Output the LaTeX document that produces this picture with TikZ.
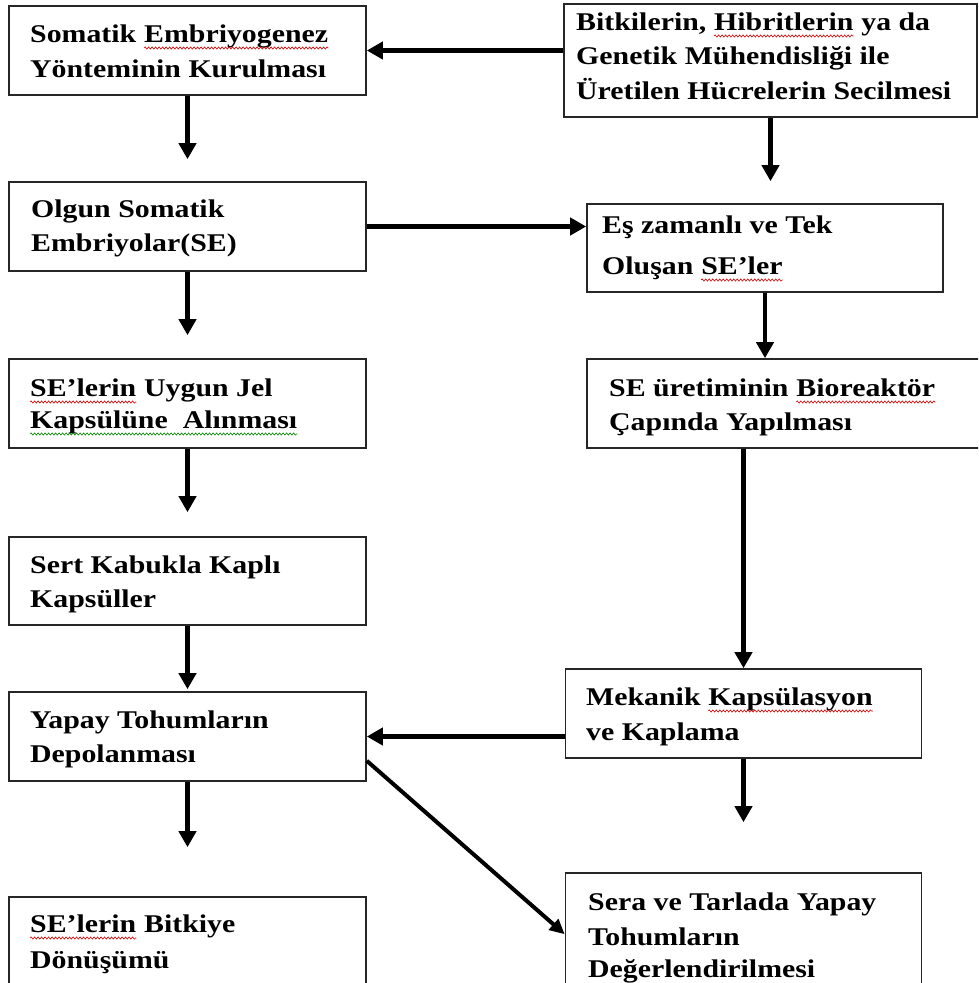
\documentclass[tikz,border=0pt]{standalone}
\usepackage{fontspec}
\setmainfont{Liberation Serif}[FakeStretch=1.17]
\usetikzlibrary{arrows.meta,decorations.pathmorphing}
\begin{document}
\begin{tikzpicture}[x=1pt,y=-1pt,
  box/.style={draw=black!85, line width=1.6pt, rectangle, inner sep=0pt},
  txt/.style={anchor=base west, inner sep=0pt, text=black, font=\fontsize{25.5}{34}\selectfont\bfseries},
  arr/.style={line width=4.5pt, -{Triangle[length=16pt,width=17pt]}},
  arrthin/.style={line width=4pt, -{Triangle[length=15pt,width=14pt]}},
  squig/.style={line width=0.6pt, decorate, decoration={snake, amplitude=1.1pt, segment length=3.5pt}},
  redsq/.style={squig, draw=red!85!black},
  grnsq/.style={squig, draw=green!55!black}]
\useasboundingbox[fill=white] (0,0) rectangle (978,983);
\clip (0,0) rectangle (978,983);
% boxes
\node[box, minimum width=357pt, minimum height=89pt] (A) at (187.5,50.5) {};
\node[box, minimum width=413pt, minimum height=113pt] (B) at (770.5,60.5) {};
\node[box, minimum width=357pt, minimum height=89pt] (C) at (187.5,226.5) {};
\node[box, minimum width=356pt, minimum height=88pt] (D) at (765,248) {};
\node[box, minimum width=357pt, minimum height=89pt] (E) at (187.5,403.5) {};
\node[box, minimum width=410pt, minimum height=89pt] (F) at (792,403.5) {};
\node[box, minimum width=357pt, minimum height=88pt] (G) at (187.5,581) {};
\node[box, minimum width=357pt, minimum height=89pt] (H) at (187.5,736.5) {};
\node[box, minimum width=356pt, minimum height=89pt] (M) at (743.5,713.5) {};
\node[box, minimum width=357pt, minimum height=110pt] (I) at (187.5,952) {};
\node[box, minimum width=356pt, minimum height=130pt] (J) at (743.5,938) {};
% texts
\node[txt] (tA1) at (30,42) {Somatik};
\node[txt] (wA) at ([xshift=7.5pt]tA1.base east) {Embriyogenez};
\node[txt] (tA2) at (30,77) {Yönteminin Kurulması};
\node[txt] (tB1) at (576,30) {Bitkilerin,};
\node[txt] (wB) at ([xshift=7.5pt]tB1.base east) {Hibritlerin};
\node[txt] (tB1b) at ([xshift=7.5pt]wB.base east) {ya da};
\node[txt] (tB2) at (576,64.5) {Genetik Mühendisliği ile};
\node[txt] (tB3) at (576,99) {Üretilen Hücrelerin Secilmesi};
\node[txt] (tC1) at (31,217) {Olgun Somatik};
\node[txt] (tC2) at (31,251) {Embriyolar(SE)};
\node[txt] (tD1) at (602,233) {Eş zamanlı ve Tek};
\node[txt] (tD2) at (602,274) {Oluşan};
\node[txt] (wD) at ([xshift=7.5pt]tD2.base east) {SE’ler};
\node[txt] (wE) at (30,396) {SE’lerin};
\node[txt] (tE1) at ([xshift=7.5pt]wE.base east) {Uygun Jel};
\node[txt] (tE2) at (30,428) {Kapsülüne\hspace{15pt}Alınması};
\node[txt] (tF1) at (609,396) {SE üretiminin};
\node[txt] (wF) at ([xshift=7.5pt]tF1.base east) {Bioreaktör};
\node[txt] (tF2) at (609,430) {Çapında Yapılması};
\node[txt] (tG1) at (30,573) {Sert Kabukla Kaplı};
\node[txt] (tG2) at (30,607) {Kapsüller};
\node[txt] (tH1) at (30,728) {Yapay Tohumların};
\node[txt] (tH2) at (30,762) {Depolanması};
\node[txt] (tM1) at (586,705) {Mekanik};
\node[txt] (wM) at ([xshift=7.5pt]tM1.base east) {Kapsülasyon};
\node[txt] (tM2) at (586,740) {ve Kaplama};
\node[txt] (wI) at (30,932) {SE’lerin};
\node[txt] (tI1) at ([xshift=7.5pt]wI.base east) {Bitkiye};
\node[txt] (tI2) at (30,968) {Dönüşümü};
\node[txt] (tJ1) at (588,910) {Sera ve Tarlada Yapay};
\node[txt] (tJ2) at (588,945) {Tohumların};
\node[txt] (tJ3) at (588,977) {Değerlendirilmesi};
% spell-check underlines
\foreach \w in {wA,wB,wD,wE,wF,wM,wI}
  \draw[redsq] ([yshift=-6pt]\w.base west) -- ([yshift=-6pt]\w.base east);
\draw[grnsq] ([yshift=-6pt]tE2.base west) -- ([yshift=-6pt]tE2.base east);
% connectors
\draw[arr] (A.east -| B.west) -- (A.east);
\draw[arr, shorten >=22pt] (A.south) -- (C.north);
\draw[arr, shorten >=22pt] (B.south) -- (B.south |- D.north);
\draw[arr] (C.east) -- (C.east -| D.west);
\draw[arr, shorten >=23pt] (C.south) -- (E.north);
\draw[arr] (D.south) -- (D.south |- F.north);
\draw[arr, shorten >=24pt] (E.south) -- (G.north);
\draw[arr] (F.south -| M.north) -- (M.north);
\draw[arr, shorten >=2pt] (G.south) -- (H.north);
\draw[arr] (H.east -| M.west) -- (H.east);
\draw[arr, shorten >=49pt] (H.south) -- (I.north);
\draw[arr, shorten >=50pt] (M.south) -- (M.south |- J.north);
\draw[arrthin] ([yshift=21pt]H.south east) -- ([yshift=-62pt]J.north west);
\end{tikzpicture}
\end{document}
